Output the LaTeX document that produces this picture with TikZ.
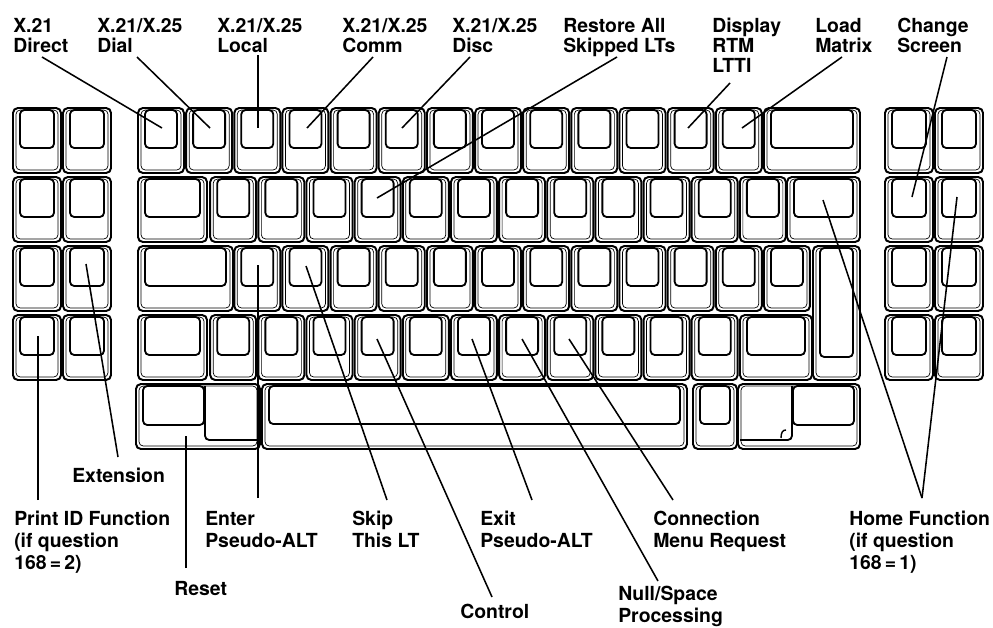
\documentclass[tikz,border=0pt]{standalone}
\usepackage{fontspec}
\setmainfont{TeX Gyre Heros}

\tikzset{
  keyline/.style={line width=1.4pt, rounded corners=3.5pt},
  capline/.style={line width=1.3pt, rounded corners=3pt},
  skirt/.style={line width=0.5pt, rounded corners=3pt},
  leader/.style={line width=1.1pt},
  toplbl/.style={anchor=base west, inner sep=0pt, align=left,
    font=\fontsize{13.8}{14.2}\selectfont\bfseries},
  botlbl/.style={toplbl, font=\fontsize{13.8}{15.6}\selectfont\bfseries},
}

% one key: [cap height] x, y, width, height
\newcommand{\kb}[5][38]{%
  \draw[keyline] (#2,#3) rectangle ++(#4,#5);
  \draw[skirt] ({#2+3},{#3+2}) rectangle ({#2+#4-3},{#3+#5-3});
  \draw[capline] ({#2+7},{#3+2}) rectangle ({#2+#4-7},{#3+2+#1});
}

\begin{document}
\begin{tikzpicture}[x=0.025cm, y=-0.025cm]
\useasboundingbox (0,0) rectangle (993,627);

\def\u{48.15};
\def\ra{108};
\def\rb{177};
\def\rc{246};
\def\rd{315};
\def\re{384};

% left block
\foreach \c in {13,63}
  \foreach \r in {\ra,\rb,\rc,\rd}
    \kb{\c}{\r}{48}{65};

% right block
\foreach \c in {885,935}
  \foreach \r in {\ra,\rb,\rc,\rd}
    \kb{\c}{\r}{48}{65};

% main block, row 1
\foreach \i [evaluate=\i as \xx using 138+\i*\u] in {0,...,12}
  \kb{\xx}{\ra}{46}{65};
\kb{764}{\ra}{96}{65};

% row 2
\kb{138}{\rb}{69}{65};
\foreach \i [evaluate=\i as \xx using 210.2+\i*\u] in {0,...,11}
  \kb{\xx}{\rb}{46}{65};
\kb{787}{\rb}{73}{65};

% row 3
\kb{138}{\rc}{95}{65};
\foreach \i [evaluate=\i as \xx using 234.3+\i*\u] in {0,...,11}
  \kb{\xx}{\rc}{46}{65};
\kb[109]{813}{\rc}{47}{134};

% row 4
\kb{138}{\rd}{69}{65};
\foreach \i [evaluate=\i as \xx using 210.2+\i*\u] in {0,...,10}
  \kb{\xx}{\rd}{46}{65};
\kb{740}{\rd}{72}{65};

% row 5
\draw[keyline] (136,\re) rectangle (260,449);
\draw[skirt] (139,386) rectangle (257,446);
\draw[capline] (143,386) rectangle (204,425);
\draw[capline] (205,386) -- (205,440) -- (258,440);
\kb{262}{\re}{425}{65};
\kb{693}{\re}{44}{65};
\draw[keyline] (738,\re) rectangle (860,449);
\draw[skirt] (741,386) rectangle (857,446);
\draw[capline] (793,386) rectangle (854,425);
\draw[capline] (792,386) -- (792,440) -- (740,440);
\draw[line width=1pt] (781,438) .. controls (781,432) and (783,430) .. (786,430);

% top labels (placed by their last baseline)
\node[toplbl] (direct)  at (13,52)  {X.21\\Direct};
\node[toplbl] (dial)    at (97,52)  {X.21/X.25\\Dial};
\node[toplbl] (local)   at (217,52) {X.21/X.25\\Local};
\node[toplbl] (comm)    at (342,52) {X.21/X.25\\Comm};
\node[toplbl] (disc)    at (452,52) {X.21/X.25\\Disc};
\node[toplbl] (restore) at (563,52) {Restore All\\Skipped LTs};
\node[toplbl] (display) at (712,72) {Display\\RTM\\LTTI};
\node[toplbl] (load)    at (815,52) {Load\\Matrix};
\node[toplbl] (change)  at (897,52) {Change\\Screen};

% bottom labels
\node[botlbl] (extension) at (72,482)  {Extension};
\node[botlbl] (printid)   at (14,569)  {Print ID Function\\(if question\\168\,=\,2)};
\node[botlbl] (reset)     at (174,595) {Reset};
\node[botlbl] (enter)     at (205,547) {Enter\\Pseudo-ALT};
\node[botlbl] (skip)      at (352,547) {Skip\\This LT};
\node[botlbl] (control)   at (460,618) {Control};
\node[botlbl] (exit)      at (480,547) {Exit\\Pseudo-ALT};
\node[botlbl] (nullsp)    at (618,622) {Null/Space\\Processing};
\node[botlbl] (connect)   at (653,547) {Connection\\Menu Request};
\node[botlbl] (home)      at (849,569) {Home Function\\(if question\\168\,=\,1)};

% leader ends: label side (-l), key side (-k)
\foreach \n/\x/\y in {direct-l/42/57, direct-k/162/128,
    dial-l/137/57, dial-k/210/128, local-l/258/55, local-k/258/128,
    comm-l/373/57, comm-k/307/128, disc-l/470/57, disc-k/402/128,
    restore-l/617/57, restore-k/377/198, display-l/730/83, display-k/688/128,
    load-l/842/57, load-k/742/128, change-l/947/57, change-k/912/197,
    extension-l/118/457, extension-k/86/264, printid-l/38/500, printid-k/38/336,
    reset-l/186/568, reset-k/186/436, enter-l/258/498, enter-k/258/265,
    skip-l/387/500, skip-k/306/266, control-l/492/597, control-k/377/339,
    exit-l/532/500, exit-k/472/339, nullsp-l/658/581, nullsp-k/522/339,
    connect-l/673/500, connect-k/569/339,
    home-l/922/498, home-k/823/200, home-kk/957/197}
  \coordinate (\n) at (\x,\y);

\foreach \n in {direct,dial,local,comm,disc,restore,display,load,change,
    extension,printid,reset,enter,skip,control,exit,nullsp,connect,home}
  \draw[leader] (\n-l) -- (\n-k);
\draw[leader] (home-l) -- (home-kk);

\end{tikzpicture}
\end{document}
